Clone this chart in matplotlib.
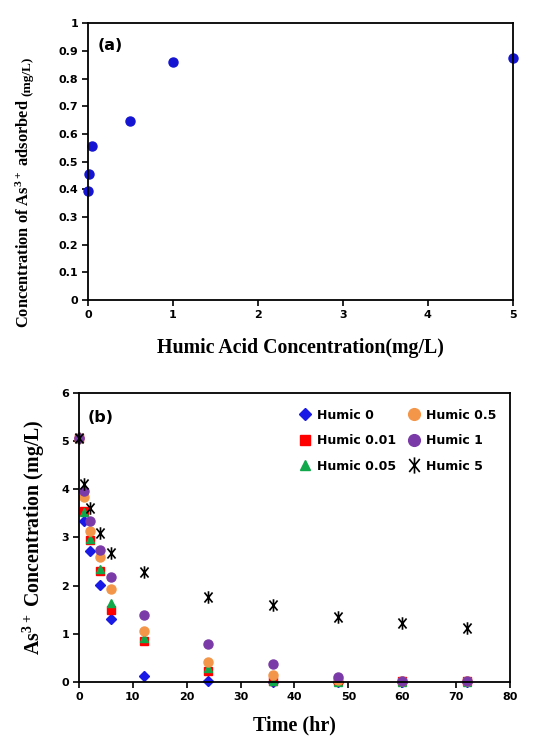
import matplotlib.pyplot as plt
from matplotlib.path import Path
from matplotlib.ticker import FuncFormatter

# panel (a): As(III) adsorbed vs humic acid concentration
humic_conc = [0, 0.01, 0.05, 0.5, 1, 5]
as_adsorbed = [0.395, 0.457, 0.557, 0.648, 0.860, 0.873]

# panel (b): As(III) concentration over time
time_hr = [0, 1, 2, 4, 6, 12, 24, 36, 48, 60, 72]
humic_0 = [5.07, 3.35, 2.72, 2.01, 1.30, 0.12, 0.01, 0.0, 0.0, 0.0, 0.0]
humic_001 = [5.07, 3.55, 2.95, 2.31, 1.50, 0.85, 0.23, 0.02, 0.01, 0.01, 0.01]
humic_005 = [5.07, 3.52, 2.97, 2.35, 1.64, 0.92, 0.30, 0.01, 0.0, 0.0, 0.0]
humic_05 = [5.07, 3.83, 3.14, 2.59, 1.92, 1.06, 0.42, 0.14, 0.04, 0.01, 0.01]
humic_1 = [5.07, 3.97, 3.34, 2.75, 2.18, 1.40, 0.78, 0.37, 0.10, 0.01, 0.01]
humic_5 = [5.07, 4.11, 3.62, 3.10, 2.68, 2.29, 1.77, 1.59, 1.35, 1.23, 1.12]

series_labels = ["Humic 0", "Humic 0.01", "Humic 0.05", "Humic 0.5", "Humic 1", "Humic 5"]

serif = "Liberation Serif"
sans = "DejaVu Sans"

plt.rcParams["font.family"] = sans
plt.rcParams["font.weight"] = "bold"
plt.rcParams["mathtext.fontset"] = "custom"
plt.rcParams["mathtext.rm"] = "Liberation Serif:bold"
plt.rcParams["mathtext.bf"] = "Liberation Serif:bold"

# star marker: vertical bar plus a narrow X
star = Path([(0, -1), (0, 1), (-0.65, -0.8), (0.65, 0.8), (-0.65, 0.8), (0.65, -0.8)],
            [Path.MOVETO, Path.LINETO, Path.MOVETO, Path.LINETO, Path.MOVETO, Path.LINETO])

fmt = FuncFormatter(lambda v, p: "%g" % round(v, 2))

fig = plt.figure(figsize=(5.33, 7.42), dpi=100)


def style_axes(ax):
    for s in ax.spines.values():
        s.set_linewidth(1.3)
    ax.tick_params(direction="out", length=4, width=1.2, labelsize=8, pad=3)


# ---- panel (a)
ax1 = fig.add_axes([0.165, 0.5957, 0.797, 0.373])
ax1.plot(humic_conc, as_adsorbed, "o", color="#1414d2", markersize=6.5, clip_on=False)
ax1.set_xlim(0, 5)
ax1.set_ylim(0, 1)
ax1.set_xticks(range(6))
ax1.set_yticks([i / 10 for i in range(11)])
ax1.yaxis.set_major_formatter(fmt)
style_axes(ax1)
ax1.text(0.022, 0.92, "(a)", transform=ax1.transAxes, fontsize=11.5,
         fontweight="bold", va="center")
ax1.set_xlabel("Humic Acid Concentration(mg/L)", family=serif, fontweight="bold",
               fontsize=14.3, labelpad=13)
ylab_a = fig.text(0.062, 0.558, r"Concentration of $\mathbf{As^{3+}}$ adsorbed", rotation=90,
                  ha="right", va="bottom", family=serif, fontweight="bold", fontsize=11.8)
fig.canvas.draw()
bb = ylab_a.get_window_extent()
fig.text(0.062, (bb.y1 + 3) / fig.bbox.height, "(mg/L)", rotation=90, ha="right", va="bottom",
         family=serif, fontweight="bold", fontsize=9.5)

# ---- panel (b)
ax2 = fig.add_axes([0.148, 0.0809, 0.809, 0.3895])
ax2.plot(time_hr, humic_0, "D", color="#1a1ae6", markersize=5, linestyle="none",
         label=series_labels[0], clip_on=False)
ax2.plot(time_hr, humic_001, "s", color="#ff0000", markersize=5.5, linestyle="none",
         label=series_labels[1], clip_on=False)
ax2.plot(time_hr, humic_005, "^", color="#10a84a", markersize=6, linestyle="none",
         label=series_labels[2], clip_on=False)
ax2.plot(time_hr, humic_05, "o", color="#f4964a", markersize=6.5, linestyle="none",
         label=series_labels[3], clip_on=False)
ax2.plot(time_hr, humic_1, "o", color="#7a3aa8", markersize=6.5, linestyle="none",
         label=series_labels[4], clip_on=False)
ax2.plot(time_hr, humic_5, marker=star, color="black", markersize=9, markeredgewidth=1.2,
         linestyle="none", label=series_labels[5], clip_on=False)
ax2.set_xlim(0, 80)
ax2.set_ylim(0, 6)
ax2.set_xticks(range(0, 81, 10))
ax2.set_yticks(range(7))
style_axes(ax2)
ax2.text(0.02, 0.915, "(b)", transform=ax2.transAxes, fontsize=11.5,
         fontweight="bold", va="center")
ax2.set_xlabel("Time (hr)", family=serif, fontweight="bold", fontsize=14.5, labelpad=10)
ax2.set_ylabel(r"$\mathbf{As^{3+}}$ Concentration (mg/L)", family=serif,
               fontweight="bold", fontsize=14.3, labelpad=10)
leg = ax2.legend(ncol=2, loc="upper left", bbox_to_anchor=(0.48, 0.985), frameon=False,
                 prop={"family": sans, "weight": "bold", "size": 9},
                 handletextpad=0.3, columnspacing=0.8, labelspacing=1.0,
                 handlelength=1.3, markerscale=1.3)

fig.savefig("out.png", dpi=100)
